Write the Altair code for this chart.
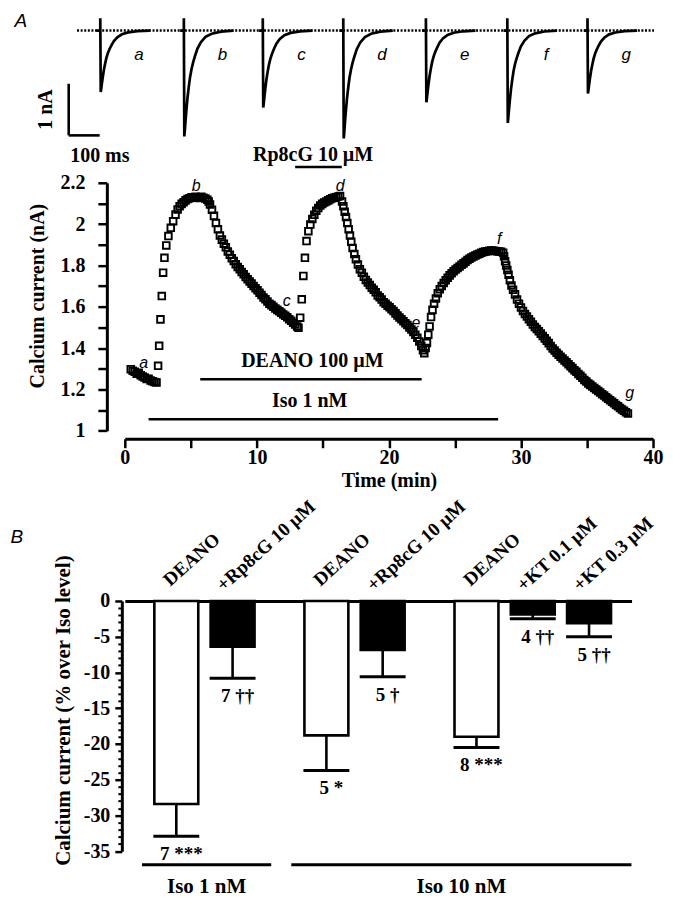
import altair as alt
import pandas as pd

SERIF = "Liberation Serif"
SANS = "Liberation Sans"

# ---------------- Panel A, top: current traces ----------------
trace_names = ["a", "b", "c", "d", "e", "f", "g"]
trace_onset_ms = [102, 372, 627, 887, 1154, 1417, 1676]
trace_peak_nA = [1.19, 2.05, 1.49, 2.09, 1.39, 1.79, 1.22]
trace_cap_nA = 0.24
shape_ms = [1.5, 3, 5, 8, 12, 16, 20, 25, 30, 36, 44, 55, 70, 90, 120, 160]
shape_frac = [1.0, 0.95, 0.87, 0.76, 0.63, 0.53, 0.44, 0.36, 0.30, 0.24, 0.17, 0.11, 0.06, 0.03, 0.01, 0.0]
baseline_ms = [27, 1891]
scalebar_ms = [0, 100]
scalebar_nA = [-1.03, -2.03]

# ---------------- Panel A, bottom: time course (min, nA) ----------------
seg_a = [(0.45, 1.298), (0.60, 1.290), (0.75, 1.286), (0.90, 1.276), (1.05, 1.280), (1.20, 1.268),
         (1.35, 1.262), (1.50, 1.258), (1.65, 1.250), (1.80, 1.252), (1.95, 1.243), (2.10, 1.240),
         (2.25, 1.236), (2.40, 1.234)]
seg_rise_b = [(2.52, 1.314), (2.60, 1.411), (2.70, 1.539), (2.80, 1.652), (2.90, 1.765), (3.00, 1.837),
              (3.14, 1.897), (3.30, 1.942), (3.48, 1.982), (3.66, 2.014), (3.84, 2.046), (4.00, 2.071),
              (4.15, 2.087), (4.30, 2.098), (4.45, 2.106), (4.60, 2.115), (4.75, 2.122), (4.90, 2.125),
              (5.05, 2.130), (5.20, 2.128), (5.35, 2.133), (5.50, 2.130), (5.65, 2.126), (5.80, 2.132),
              (5.95, 2.128), (6.10, 2.124), (6.25, 2.118), (6.35, 2.110)]
seg_decline_c = [(6.45, 2.095), (6.60, 2.070), (6.75, 2.040), (6.90, 2.005), (7.05, 1.975), (7.20, 1.945),
                 (7.35, 1.925), (7.50, 1.905), (7.65, 1.888), (7.80, 1.868), (7.95, 1.852), (8.10, 1.835),
                 (8.25, 1.822), (8.40, 1.806), (8.55, 1.793), (8.70, 1.782), (8.85, 1.768), (9.00, 1.757),
                 (9.15, 1.744), (9.30, 1.733), (9.45, 1.722), (9.60, 1.712), (9.75, 1.700), (9.90, 1.690),
                 (10.05, 1.680), (10.20, 1.668), (10.35, 1.657), (10.50, 1.645), (10.65, 1.636), (10.80, 1.625),
                 (10.95, 1.615), (11.10, 1.608), (11.25, 1.600), (11.40, 1.592), (11.55, 1.585), (11.70, 1.578),
                 (11.85, 1.571), (12.00, 1.563), (12.15, 1.556), (12.30, 1.549), (12.45, 1.540), (12.60, 1.532),
                 (12.75, 1.523), (12.90, 1.514), (13.05, 1.505), (13.15, 1.498)]
seg_rise_d = [(13.28, 1.547), (13.40, 1.636), (13.52, 1.749), (13.64, 1.837), (13.76, 1.918), (13.90, 1.966),
              (14.05, 1.998), (14.20, 2.025), (14.35, 2.045), (14.50, 2.065), (14.65, 2.078), (14.80, 2.090),
              (14.95, 2.098), (15.10, 2.105), (15.25, 2.110), (15.40, 2.115), (15.55, 2.120), (15.70, 2.125),
              (15.85, 2.128), (16.00, 2.130), (16.15, 2.134), (16.30, 2.136)]
seg_decline_e = [(16.45, 2.110), (16.55, 2.087), (16.65, 2.060), (16.75, 2.035), (16.85, 2.005), (16.95, 1.975),
                 (17.05, 1.945), (17.15, 1.915), (17.25, 1.885), (17.38, 1.855), (17.50, 1.830), (17.65, 1.805),
                 (17.80, 1.782), (17.95, 1.765), (18.10, 1.745), (18.25, 1.730), (18.40, 1.718), (18.55, 1.705),
                 (18.70, 1.692), (18.85, 1.682), (19.00, 1.670), (19.15, 1.655), (19.30, 1.646), (19.45, 1.635),
                 (19.60, 1.622), (19.75, 1.615), (19.90, 1.605), (20.05, 1.598), (20.20, 1.588), (20.35, 1.580),
                 (20.50, 1.568), (20.65, 1.558), (20.80, 1.548), (20.95, 1.540), (21.10, 1.530), (21.25, 1.520),
                 (21.40, 1.512), (21.55, 1.500), (21.70, 1.490), (21.85, 1.478), (22.00, 1.465), (22.15, 1.450),
                 (22.30, 1.432), (22.45, 1.410), (22.58, 1.390), (22.68, 1.375)]
seg_rise_f = [(22.78, 1.400), (22.88, 1.425), (22.98, 1.465), (23.08, 1.505), (23.19, 1.550), (23.30, 1.585),
              (23.42, 1.615), (23.56, 1.640), (23.70, 1.665), (23.85, 1.685), (24.00, 1.700), (24.15, 1.715),
              (24.30, 1.728), (24.45, 1.740), (24.60, 1.752), (24.75, 1.762), (24.90, 1.772), (25.05, 1.780),
              (25.20, 1.788), (25.35, 1.795), (25.50, 1.803), (25.65, 1.810), (25.80, 1.818), (25.95, 1.826),
              (26.10, 1.832), (26.25, 1.838), (26.40, 1.843), (26.55, 1.848), (26.70, 1.853), (26.85, 1.857),
              (27.00, 1.862), (27.15, 1.865), (27.30, 1.867), (27.45, 1.869), (27.60, 1.871), (27.75, 1.872),
              (27.90, 1.871), (28.05, 1.870), (28.20, 1.869), (28.35, 1.868), (28.50, 1.866), (28.65, 1.862)]
seg_decline_g = [(28.72, 1.845), (28.80, 1.820), (28.88, 1.800), (28.97, 1.778), (29.06, 1.755), (29.16, 1.728),
                 (29.28, 1.703), (29.40, 1.682), (29.55, 1.660), (29.70, 1.635), (29.85, 1.615), (30.00, 1.597),
                 (30.15, 1.580), (30.30, 1.565), (30.45, 1.553), (30.60, 1.540), (30.75, 1.528), (30.90, 1.514),
                 (31.05, 1.502), (31.20, 1.492), (31.35, 1.482), (31.50, 1.470), (31.65, 1.458), (31.80, 1.447),
                 (31.95, 1.435), (32.10, 1.424), (32.25, 1.410), (32.40, 1.398), (32.55, 1.388), (32.70, 1.378),
                 (32.85, 1.368), (33.00, 1.358), (33.15, 1.350), (33.30, 1.340), (33.45, 1.331), (33.60, 1.322),
                 (33.75, 1.312), (33.90, 1.303), (34.05, 1.293), (34.20, 1.285), (34.35, 1.275), (34.50, 1.266),
                 (34.65, 1.257), (34.80, 1.246), (34.95, 1.238), (35.10, 1.229), (35.25, 1.222), (35.40, 1.214),
                 (35.55, 1.207), (35.70, 1.200), (35.85, 1.192), (36.00, 1.185), (36.15, 1.177), (36.30, 1.170),
                 (36.45, 1.162), (36.60, 1.155), (36.75, 1.148), (36.90, 1.140), (37.05, 1.133), (37.20, 1.125),
                 (37.35, 1.118), (37.50, 1.110), (37.65, 1.103), (37.80, 1.097), (37.95, 1.090), (38.10, 1.083)]

point_labels = ["a", "b", "c", "d", "e", "f", "g"]
point_label_t = [1.42, 5.41, 12.27, 16.3, 22.05, 28.35, 38.24]
point_label_I = [1.33, 2.184, 1.628, 2.184, 1.52, 1.926, 1.185]

drug_names = ["Rp8cG 10 µM", "DEANO 100 µM", "Iso 1 nM"]
drug_start = [12.9, 5.71, 1.8]
drug_end = [16.43, 22.48, 28.27]
drug_line_I = [2.277, 1.249, 1.056]
drug_text_t = [14.26, 14.2, 14.0]
drug_text_I = [2.335, 1.338, 1.146]

yA_ticks = [1.0, 1.1, 1.2, 1.3, 1.4, 1.5, 1.6, 1.7, 1.8, 1.9, 2.0, 2.1, 2.2]
xA_ticks = [0, 5, 10, 15, 20, 25, 30, 35, 40]

# ---------------- Panel B: bar chart ----------------
bar_labels = ["DEANO", "+Rp8cG 10 µM", "DEANO", "+Rp8cG 10 µM", "DEANO", "+KT 0.1 µM", "+KT 0.3 µM"]
bar_mean = [-28.4, -6.4, -18.8, -6.85, -19.0, -1.9, -3.1]
bar_err_end = [-32.9, -10.8, -23.7, -10.6, -20.5, -2.5, -5.0]
bar_n = ["7 ***", "7 ††", "5 *", "5 †", "8 ***", "4 ††", "5 ††"]
bar_open = [True, False, True, False, True, False, False]
group_names = ["Iso 1 nM", "Iso 10 nM"]
yB_major = [0, -5, -10, -15, -20, -25, -30, -35]

# layout of the bar slots (within-group step 3, between-group step 5)
bar_slot = [0, 3, 8, 11, 16, 19, 22]
group_span = [(-1.83, 5.06), (6.13, 24.26)]

common_axis = dict(domainColor="black", tickColor="black", labelColor="black", titleColor="black",
                   labelFont=SERIF, labelFontWeight="bold", titleFont=SERIF, titleFontWeight="bold",
                   grid=False, labelFlush=False, labelOverlap=False)

# ======== Chart 1: traces ========
rows = []
for name, t0, amp in zip(trace_names, trace_onset_ms, trace_peak_nA):
    rows.append(dict(trace=name, ms=t0 - 12, nA=0.0, seq=0))
    rows.append(dict(trace=name, ms=t0, nA=0.0, seq=1))
    rows.append(dict(trace=name, ms=t0, nA=trace_cap_nA, seq=2))
    for j, (dt, fr) in enumerate(zip(shape_ms, shape_frac)):
        rows.append(dict(trace=name, ms=t0 + dt, nA=-amp * fr, seq=3 + j))
traces_df = pd.DataFrame(rows)

W1 = 529
H1 = 142.2
x1 = alt.X("ms:Q", scale=alt.Scale(domain=[181.3, 1887.7]), axis=None)
y1 = alt.Y("nA:Q", scale=alt.Scale(domain=[-2.5, 0.25]), axis=None)

base_df = pd.DataFrame({"ms": [baseline_ms[0]], "ms2": [baseline_ms[1]], "nA": [0.0]})
baseline = alt.Chart(base_df).mark_rule(color="black", strokeWidth=2.5, strokeDash=[2, 1.6]).encode(
    x=x1, x2="ms2:Q", y=y1)
trace_lines = alt.Chart(traces_df).mark_line(color="black", strokeWidth=2.7).encode(
    x=x1, y=y1, detail="trace:N", order="seq:Q")
sb_v = alt.Chart(pd.DataFrame({"ms": [scalebar_ms[0]], "nA": [scalebar_nA[0]], "nA2": [scalebar_nA[1]]})).mark_rule(
    color="black", strokeWidth=2.6).encode(x=x1, y=y1, y2="nA2:Q")
sb_h = alt.Chart(pd.DataFrame({"ms": [scalebar_ms[0]], "ms2": [scalebar_ms[1]], "nA": [scalebar_nA[1]]})).mark_rule(
    color="black", strokeWidth=2.6).encode(x=x1, x2="ms2:Q", y=y1)
sb_v_text = alt.Chart(pd.DataFrame({"ms": [-72], "nA": [(scalebar_nA[0] + scalebar_nA[1]) / 2], "txt": ["1 nA"]})).mark_text(
    font=SERIF, fontWeight="bold", fontSize=20, angle=270, align="center", baseline="middle", color="black").encode(
    x=x1, y=y1, text="txt:N")
sb_h_text = alt.Chart(pd.DataFrame({"ms": [scalebar_ms[0]], "nA": [-2.42], "txt": ["100 ms"]})).mark_text(
    font=SERIF, fontWeight="bold", fontSize=20, align="left", baseline="middle", color="black", xOffset=1.5).encode(
    x=x1, y=y1, text="txt:N")
tl_df = pd.DataFrame({"ms": [t + 125 for t in trace_onset_ms], "nA": [-0.48] * 7, "txt": trace_names})
trace_labels = alt.Chart(tl_df).mark_text(font=SANS, fontStyle="italic", fontSize=17, align="center",
                                          baseline="middle", color="black").encode(x=x1, y=y1, text="txt:N")
letterA = alt.Chart(pd.DataFrame({"txt": ["A"]})).mark_text(
    font=SANS, fontStyle="italic", fontSize=19, align="left", baseline="alphabetic", color="black").encode(
    x=alt.value(-110.5), y=alt.value(9.0), text="txt:N")

chart1 = alt.layer(baseline, trace_lines, sb_v, sb_h, sb_v_text, sb_h_text, trace_labels, letterA).properties(
    width=W1, height=H1)

# ======== Chart 2: time course ========
all_pts = seg_a + seg_rise_b + seg_decline_c + seg_rise_d + seg_decline_e + seg_rise_f + seg_decline_g
pts_df = pd.DataFrame(all_pts, columns=["t", "I"])

W2 = 529
H2 = 248.3
xsc2 = alt.Scale(domain=[0, 40])
ysc2 = alt.Scale(domain=[1.0, 2.2])
x2_axis = alt.Axis(values=xA_ticks, labelExpr="datum.value % 10 == 0 ? datum.label : ''", tickSize=9,
                   tickWidth=2.5, domainWidth=3, labelFontSize=20, labelPadding=0, offset=8,
                   title="Time (min)", titleFontSize=20, titlePadding=3, **common_axis)
y2_axis = alt.Axis(values=yA_ticks, labelExpr="(round(datum.value*10) % 2 == 0) ? format(datum.value, '.1~f') : ''",
                   tickSize=9, tickWidth=2.5, domainWidth=3, labelFontSize=20, labelPadding=13, offset=18,
                   title="Calcium current (nA)", titleFontSize=20, titlePadding=12, titleY=113, **common_axis)
x2a = alt.X("t:Q", scale=xsc2, axis=x2_axis)
y2a = alt.Y("I:Q", scale=ysc2, axis=y2_axis)
x2n = alt.X("t:Q", scale=xsc2, axis=None)
y2n = alt.Y("I:Q", scale=ysc2, axis=None)

points = alt.Chart(pts_df).mark_point(shape="square", filled=False, size=44, strokeWidth=1.9,
                                      color="black", opacity=1).encode(x=x2a, y=y2a)
pl_df = pd.DataFrame({"t": point_label_t, "I": point_label_I, "txt": point_labels})
p_labels = alt.Chart(pl_df).mark_text(font=SANS, fontStyle="italic", fontSize=16, align="center",
                                      baseline="middle", color="black").encode(x=x2n, y=y2n, text="txt:N")
drug_df = pd.DataFrame({"t": drug_start, "t2": drug_end, "I": drug_line_I})
drug_rules = alt.Chart(drug_df).mark_rule(color="black", strokeWidth=2.5).encode(x=x2n, x2="t2:Q", y=y2n)
dt_df = pd.DataFrame({"t": drug_text_t, "I": drug_text_I, "txt": drug_names})
drug_texts = alt.Chart(dt_df).mark_text(font=SERIF, fontWeight="bold", fontSize=20, align="center",
                                        baseline="middle", color="black").encode(x=x2n, y=y2n, text="txt:N")

chart2 = alt.layer(points, p_labels, drug_rules, drug_texts).resolve_axis(
    x="independent", y="independent").properties(width=W2, height=H2)

# ======== Chart 3: bar chart ========
W3 = 507.5
H3 = 250.6
xsc3 = alt.Scale(domain=[-2.478, 24.0])
ysc3 = alt.Scale(domain=[-35, 0])
x3_axis = alt.Axis(orient="top", labels=False, ticks=False, domain=True, domainWidth=3, domainColor="black",
                   title=None, grid=False)
y3_axis = alt.Axis(values=yB_major, labelExpr="datum.value == 0 ? '0' : '-' + abs(datum.value)",
                   tickSize=7, tickWidth=2.5, domainWidth=3, labelFontSize=20, labelPadding=5, offset=3,
                   title="Calcium current (% over Iso level)", titleFontSize=21, titlePadding=10,
                   titleY=109.3, **common_axis)
y3_minor = alt.Axis(orient="left", values=[v for v in range(-34, 0) if v % 5 != 0], tickSize=4, tickWidth=2,
                    labels=False, domain=False, offset=3, title=None, grid=False, tickColor="black")

bar_df = pd.DataFrame({"slot": bar_slot, "v": bar_mean, "v2": [0] * 7, "err": bar_err_end,
                       "fill": ["white" if o else "black" for o in bar_open], "n": bar_n,
                       "lab": bar_labels})
x3a = alt.X("slot:Q", scale=xsc3, axis=x3_axis)
x3n = alt.X("slot:Q", scale=xsc3, axis=None)

bars = alt.Chart(bar_df).mark_bar(size=44, stroke="black", strokeWidth=2.6).encode(
    x=x3a, y=alt.Y("v:Q", scale=ysc3, axis=y3_axis), y2="v2:Q",
    fill=alt.Fill("fill:N", scale=None))
err_rules = alt.Chart(bar_df).mark_rule(color="black", strokeWidth=2.6).encode(
    x=x3n, y=alt.Y("v:Q", scale=ysc3, axis=y3_minor), y2="err:Q")
caps = alt.Chart(bar_df).mark_tick(orient="horizontal", size=46, thickness=3, color="black", opacity=1).encode(
    x=x3n, y=alt.Y("err:Q", scale=ysc3, axis=None))
n_text = alt.Chart(bar_df).mark_text(font=SERIF, fontWeight="bold", fontSize=19, align="center",
                                     baseline="middle", color="black", yOffset=18, xOffset=5).encode(
    x=x3n, y=alt.Y("err:Q", scale=ysc3, axis=None), text="n:N")
rot_deano = alt.Chart(bar_df[bar_df["lab"] == "DEANO"]).mark_text(
    font=SERIF, fontWeight="bold", fontSize=19, angle=318, align="left", baseline="alphabetic",
    color="black", xOffset=-6, yOffset=-14).encode(
    x=x3n, y=alt.Y("v2:Q", scale=ysc3, axis=None), text="lab:N")
rot_drug = alt.Chart(bar_df[bar_df["lab"] != "DEANO"]).mark_text(
    font=SERIF, fontWeight="bold", fontSize=19, angle=318, align="left", baseline="alphabetic",
    color="black", xOffset=-9, yOffset=-9).encode(
    x=x3n, y=alt.Y("v2:Q", scale=ysc3, axis=None), text="lab:N")
grp_df = pd.DataFrame({"slot": [s[0] for s in group_span], "slot2": [s[1] for s in group_span],
                       "gy": [-36.9, -36.9], "ty": [-40.0, -40.0],
                       "mid": [(s[0] + s[1]) / 2 for s in group_span], "txt": group_names})
grp_rules = alt.Chart(grp_df).mark_rule(color="black", strokeWidth=3).encode(
    x=x3n, x2="slot2:Q", y=alt.Y("gy:Q", scale=ysc3, axis=None))
grp_text = alt.Chart(grp_df).mark_text(font=SERIF, fontWeight="bold", fontSize=21, align="center",
                                       baseline="middle", color="black").encode(
    x=alt.X("mid:Q", scale=xsc3, axis=None), y=alt.Y("ty:Q", scale=ysc3, axis=None), text="txt:N")
letterB = alt.Chart(pd.DataFrame({"txt": ["B"]})).mark_text(
    font=SANS, fontStyle="italic", fontSize=19, align="left", baseline="alphabetic", color="black").encode(
    x=alt.value(-114.5), y=alt.value(-57.7), text="txt:N")

chart3 = alt.layer(bars, err_rules, caps, n_text, rot_deano, rot_drug, grp_rules, grp_text, letterB).resolve_axis(
    x="independent", y="independent").properties(width=W3, height=H3)

# empty spacer between the two panels
spacer = alt.Chart(pd.DataFrame({"v": [0]})).mark_point(opacity=0).encode(
    x=alt.value(0), y=alt.value(0)).properties(width=W3, height=124.6)

chart = alt.vconcat(chart1, chart2, spacer, chart3, spacing=22.4, bounds="flush").properties(
    padding={"left": 2, "top": 3, "right": 4, "bottom": 0}
).configure_view(stroke=None)

chart.save("out.html", embed_options={"renderer": "svg", "actions": False})
